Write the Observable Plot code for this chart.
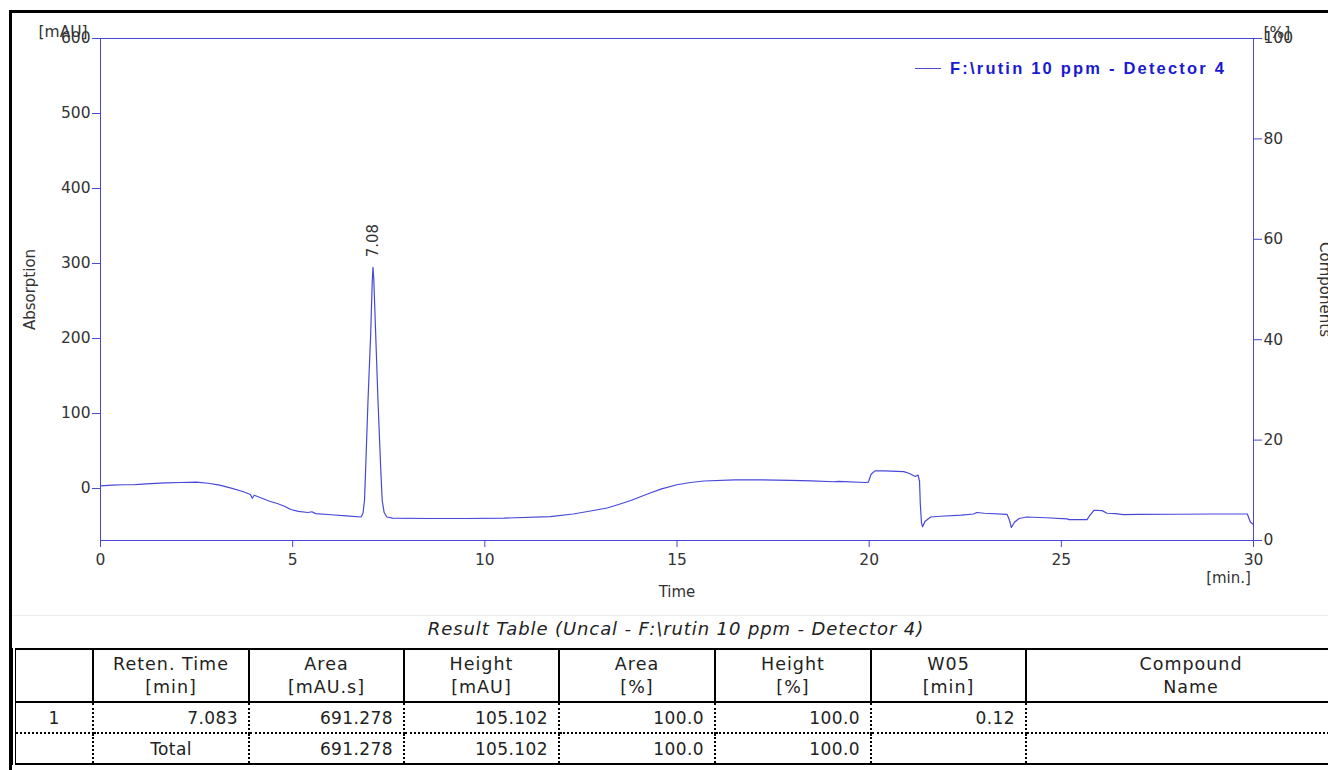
<!DOCTYPE html>
<html><head><meta charset="utf-8">
<script src="https://cdn.jsdelivr.net/npm/d3@7"></script>
<script src="https://cdn.jsdelivr.net/npm/@observablehq/plot@0.6"></script>
<style>
html,body{margin:0;padding:0;background:#fff;}
#page{position:relative;width:1328px;height:770px;overflow:hidden;font-family:"DejaVu Sans",Verdana,sans-serif;color:#222;background:#fff;}
#frame{position:absolute;left:9px;top:10px;width:1340px;height:780px;border-left:3px solid #000;border-top:3px solid #000;box-sizing:border-box;}
#chart{position:absolute;left:0;top:0;}
#legend{position:absolute;left:915px;top:57px;height:22px;display:flex;align-items:center;font-family:"Liberation Sans",Arial,sans-serif;font-weight:bold;font-size:16.5px;letter-spacing:2.2px;color:#1a1ad0;white-space:nowrap;}
#legend .sw{width:26px;height:0;border-top:1.3px solid #4848d8;margin-right:9px;}
#sep{position:absolute;left:12px;top:615px;width:1320px;height:1px;background:#ececec;}
#ttitle{position:absolute;left:12px;width:1328px;top:618px;text-align:center;font-style:italic;font-size:18px;letter-spacing:0.9px;color:#222;}
table{position:absolute;left:12px;top:648px;border-collapse:collapse;table-layout:fixed;font-size:17px;color:#222;}
th{font-weight:normal;height:51px;line-height:23px;border:2px solid #000;text-align:center;padding:0;letter-spacing:1px;font-size:17.5px;}
td{height:29px;padding:0 10px 0 0;text-align:right;border-left:2px dotted #000;border-right:2px dotted #000;letter-spacing:0.4px;}
tr.r1 td{border-bottom:2px dotted #000;}
tr.r2 td{border-bottom:2px solid #000;}
td.c0,th.c0{border-left:4px double #000;}
td.c0,td.center{text-align:center;padding:0;}
</style>
</head>
<body>
<div id="page">
  <div id="frame"></div>
  <div id="chart"></div>
  <div id="legend"><div class="sw"></div><span id="legtext"></span></div>
  <div id="sep"></div>
  <div id="ttitle"></div>
  <table id="tbl"></table>
</div>
<script>
// ---- Data ----
const times = [0.00,0.30,0.60,0.87,1.00,1.30,1.70,2.10,2.50,2.80,3.10,3.40,3.70,3.90,3.95,4.00,4.05,4.20,4.40,4.60,4.80,4.95,5.15,5.40,5.50,5.60,6.00,6.40,6.78,6.83,6.87,6.90,6.96,7.03,7.07,7.09,7.11,7.16,7.22,7.29,7.33,7.38,7.45,7.60,8.50,9.50,10.50,11.70,12.30,12.75,13.18,13.50,13.80,14.30,14.60,15.00,15.35,15.70,16.50,17.20,17.95,18.50,19.08,19.20,19.90,19.98,20.05,20.15,20.40,20.90,21.05,21.20,21.27,21.31,21.33,21.36,21.39,21.45,21.60,21.86,22.40,22.72,22.80,23.00,23.59,23.65,23.70,23.78,23.90,24.10,24.60,25.15,25.20,25.67,25.75,25.85,26.06,26.19,26.40,26.62,27.00,27.92,29.00,29.84,29.92,30.00];
const absorb = [3.5,4.5,5.0,5.0,5.5,6.5,7.5,8.0,8.5,7.0,4.5,0.5,-4,-8,-13,-9,-10,-13,-17,-20,-24,-28,-30.5,-32,-31,-33.5,-35,-36.5,-38,-33,-15,28,117,206,275,295,280,206,117,28,-16,-32,-38,-39.5,-40,-40,-39.5,-37.5,-34,-30,-26,-21,-16,-6,-0.5,5,8,10,11.5,11.5,10.8,10.2,9,9.5,8,8.5,19,23.5,23.5,22.5,20,16,18,10,-20,-45,-51,-44,-38,-37,-35.5,-34,-32,-33,-34.5,-42,-52,-45,-40,-38,-39,-40.5,-41.5,-41.5,-35,-29,-29.5,-33,-33.5,-34.7,-34.5,-34.3,-34,-34,-45,-48];
const xTicks = [0,5,10,15,20,25,30];
const yTicks = [0,100,200,300,400,500,600];
const pctTicks = [0,20,40,60,80,100];
const yDomain = [-69.3,600];
const peakTimes = [7.083];
const peakLabels = ["7.08"];
const seriesName = "F:\\rutin 10 ppm - Detector 4";
const tableTitle = "Result Table (Uncal - F:\\rutin 10 ppm - Detector 4)";
const headTop = ["","Reten. Time","Area","Height","Area","Height","W05","Compound"];
const headBottom = ["","[min]","[mAU.s]","[mAU]","[%]","[%]","[min]","Name"];
const row1 = ["1","7.083","691.278","105.102","100.0","100.0","0.12",""];
const rowTotal = ["","Total","691.278","105.102","100.0","100.0","",""];
const colWidths = [79,156,155,155,156,156,155,330];

// ---- Chart ----
const blue = "#4848d8";
const trace = times.map((t,i)=>({t, a: absorb[i]}));
const peakMax = d3.max(absorb);
const peaks = peakTimes.map((t,i)=>({t, a: peakMax, label: peakLabels[i]}));
const toY = p => yDomain[0] + p/100*(yDomain[1]-yDomain[0]);
const toPct = v => Math.round((v - yDomain[0])/(yDomain[1]-yDomain[0])*100);
const lab = {fill: "#333", lineAnchor: "middle"};

const chart = Plot.plot({
  width: 1328, height: 610,
  marginLeft: 100, marginRight: 75, marginTop: 38, marginBottom: 70,
  x: {domain: [0,30]},
  y: {domain: yDomain},
  style: {fontFamily: "'DejaVu Sans', Verdana, sans-serif", fontSize: "15px", color: "#333", background: "transparent", overflow: "visible"},
  marks: [
    Plot.axisY(yTicks, {anchor: "left", tickSize: 8, tickPadding: 2, stroke: blue, fill: "#333", label: null, fontSize: 15.5}),
    Plot.axisY(pctTicks.map(toY), {anchor: "right", tickSize: 8, tickPadding: 2, stroke: blue, fill: "#333", label: null, fontSize: 15.5, tickFormat: toPct}),
    Plot.axisX(xTicks, {anchor: "bottom", tickSize: 7, tickPadding: 6, stroke: blue, fill: "#333", label: null, fontSize: 15.5}),
    Plot.frame({stroke: blue}),
    Plot.line(trace, {x: "t", y: "a", stroke: blue, strokeWidth: 1.2}),
    Plot.text(peaks, {x: "t", y: "a", text: "label", rotate: -90, textAnchor: "start", dy: -10, fill: "#333", fontSize: 15}),
    Plot.text(["[mAU]"], {...lab, text: d=>d, frameAnchor: "top-left", dx: -62, dy: -6, textAnchor: "start", fontSize: 15.5}),
    Plot.text(["[%]"], {...lab, text: d=>d, frameAnchor: "top-right", dx: 10, dy: -5, textAnchor: "start", fontSize: 15.5}),
    Plot.text(["Absorption"], {...lab, text: d=>d, frameAnchor: "left", dx: -70, rotate: -90, textAnchor: "middle", fontSize: 15}),
    Plot.text(["Components"], {...lab, text: d=>d, frameAnchor: "right", dx: 71, rotate: 90, textAnchor: "middle", fontSize: 15}),
    Plot.text(["Time"], {...lab, text: d=>d, frameAnchor: "bottom", dy: 52, textAnchor: "middle", fontSize: 15}),
    Plot.text(["[min.]"], {...lab, text: d=>d, frameAnchor: "bottom-right", dx: -25, dy: 38, textAnchor: "middle", fontSize: 15})
  ]
});
document.getElementById("chart").appendChild(chart);
document.getElementById("legtext").textContent = seriesName;
document.getElementById("ttitle").textContent = tableTitle;

// ---- Table ----
const tbl = document.getElementById("tbl");
tbl.style.width = d3.sum(colWidths) + "px";
let html = "<colgroup>" + colWidths.map(w=>`<col style="width:${w}px">`).join("") + "</colgroup>";
html += "<tr>" + headTop.map((h,i)=>`<th class="c${i}">${h}<br>${headBottom[i]}</th>`).join("") + "</tr>";
html += `<tr class="r1">` + row1.map((v,i)=>`<td class="c${i}">${v}</td>`).join("") + "</tr>";
html += `<tr class="r2">` + rowTotal.map((v,i)=>`<td class="c${i}${i===1?' center':''}">${v}</td>`).join("") + "</tr>";
tbl.innerHTML = html;
</script>
</body></html>
